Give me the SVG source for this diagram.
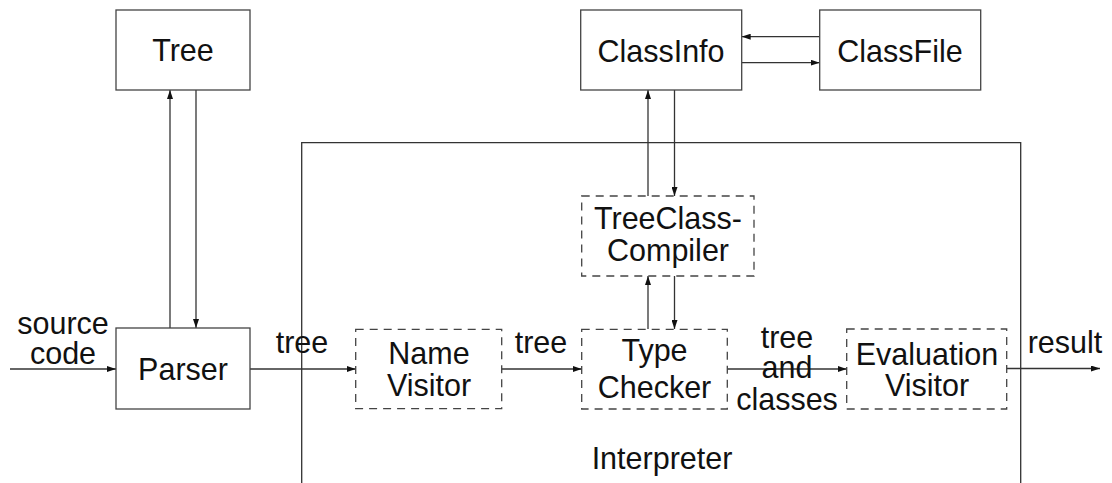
<svg xmlns="http://www.w3.org/2000/svg" width="1112" height="483" viewBox="0 0 1112 483">
  <defs>
    <marker id="arrow" viewBox="0 0 9 6" refX="9" refY="3" markerWidth="9" markerHeight="6" markerUnits="userSpaceOnUse" orient="auto">
      <path d="M0,0 L9,3 L0,6 z" fill="#111"/>
    </marker>
  </defs>
  <style>
    .box { fill: #fff; stroke: #444; stroke-width: 1.3; }
    .dashed { fill: none; stroke: #444; stroke-width: 1.3; stroke-dasharray: 8 6; }
    .frame { fill: none; stroke: #333; stroke-width: 1.3; }
    .conn { fill: none; stroke: #333; stroke-width: 1.3; marker-end: url(#arrow); }
    text { font-family: "Liberation Sans", Arial, sans-serif; font-size: 30.5px; fill: #111; text-anchor: middle; }
  </style>
  <rect width="1112" height="483" fill="#fff"/>

  <!-- Interpreter enclosure (open at the bottom) -->
  <g id="interpreter">
    <path class="frame" d="M301.7,483 V142.7 H1020.7 V483"/>
    <text x="662" y="469">Interpreter</text>
  </g>

  <!-- connectors -->
  <g id="connectors">
    <line class="conn" x1="10" y1="369" x2="116" y2="369"/>
    <line class="conn" x1="170" y1="328" x2="170" y2="90"/>
    <line class="conn" x1="196" y1="90" x2="196" y2="328"/>
    <line class="conn" x1="250" y1="369" x2="355.7" y2="369"/>
    <line class="conn" x1="501.7" y1="369" x2="581.7" y2="369"/>
    <line class="conn" x1="727.3" y1="369" x2="846.7" y2="369"/>
    <line class="conn" x1="1006.7" y1="368.5" x2="1100" y2="368.5"/>
    <line class="conn" x1="648" y1="329" x2="648" y2="276"/>
    <line class="conn" x1="674.5" y1="276" x2="674.5" y2="329"/>
    <line class="conn" x1="648" y1="196" x2="648" y2="90"/>
    <line class="conn" x1="674.5" y1="90" x2="674.5" y2="196"/>
    <line class="conn" x1="819.7" y1="36.7" x2="741.7" y2="36.7"/>
    <line class="conn" x1="741.7" y1="62.7" x2="819.7" y2="62.7"/>
  </g>

  <!-- connector labels -->
  <g id="labels">
    <text x="63" y="334">source</text>
    <text x="63" y="364">code</text>
    <text x="302" y="353">tree</text>
    <text x="541" y="353">tree</text>
    <text x="787" y="348">tree</text>
    <text x="787" y="378">and</text>
    <text x="787" y="410">classes</text>
    <text x="1065" y="353">result</text>
  </g>

  <g id="tree">
    <rect class="box" x="116" y="10" width="134" height="80"/>
    <text x="183" y="61">Tree</text>
  </g>

  <g id="parser">
    <rect class="box" x="116" y="328" width="134" height="81"/>
    <text x="183" y="380">Parser</text>
  </g>

  <g id="classinfo">
    <rect class="box" x="580.7" y="10" width="161" height="80"/>
    <text x="661" y="62">ClassInfo</text>
  </g>

  <g id="classfile">
    <rect class="box" x="819.7" y="10" width="161" height="80"/>
    <text x="900" y="62">ClassFile</text>
  </g>

  <g id="treeclasscompiler">
    <rect class="dashed" x="581.7" y="196" width="172.3" height="80"/>
    <text x="668" y="229">TreeClass-</text>
    <text x="668" y="261">Compiler</text>
  </g>

  <g id="namevisitor">
    <rect class="dashed" x="355.7" y="329.3" width="146" height="79.4"/>
    <text x="429" y="364">Name</text>
    <text x="429" y="396">Visitor</text>
  </g>

  <g id="typechecker">
    <rect class="dashed" x="581.7" y="329.3" width="145.6" height="79.7"/>
    <text x="654.5" y="361">Type</text>
    <text x="654.5" y="398">Checker</text>
  </g>

  <g id="evaluationvisitor">
    <rect class="dashed" x="846.7" y="329" width="160" height="80"/>
    <text x="927" y="365">Evaluation</text>
    <text x="927" y="396">Visitor</text>
  </g>
</svg>
